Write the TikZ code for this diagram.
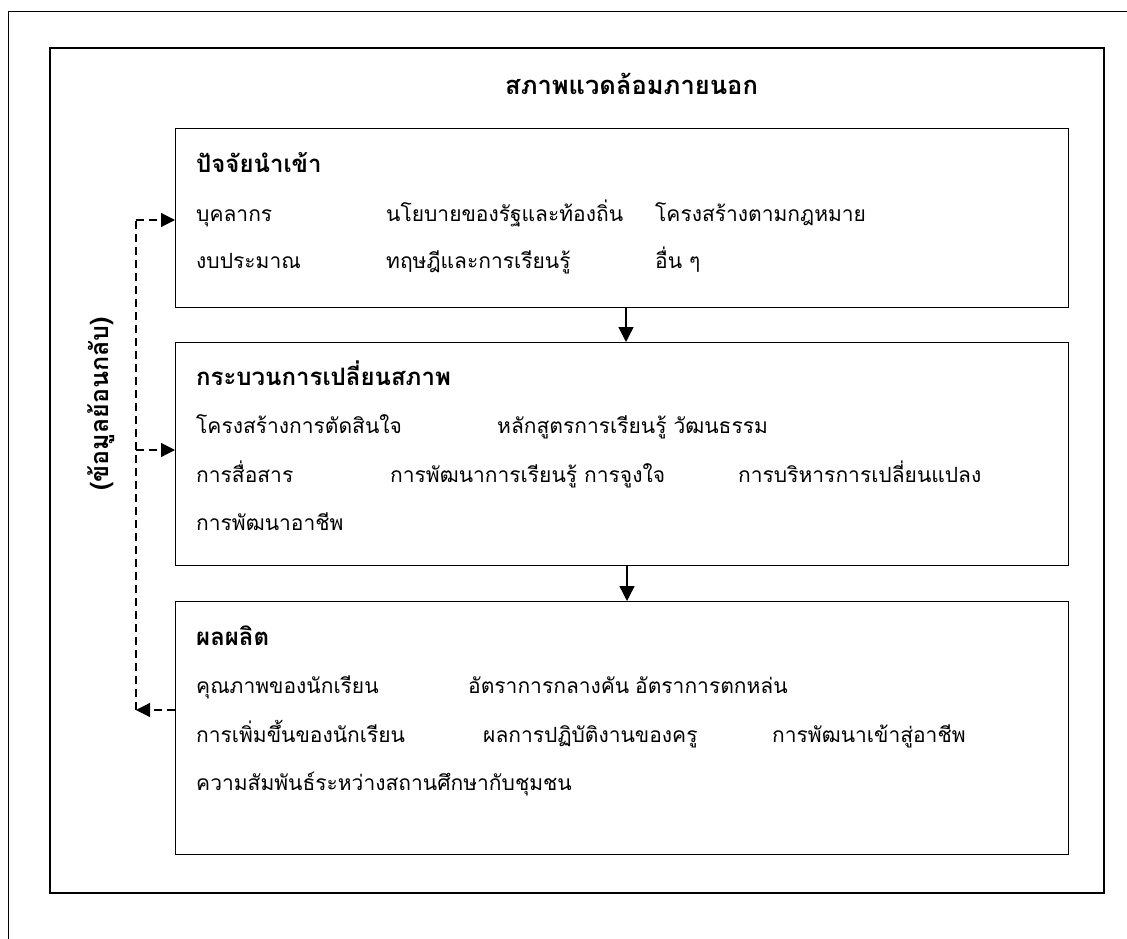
\documentclass[tikz,border=0pt]{standalone}
\usepackage{fontspec}
\setmainfont[Script=Thai]{Loma}
\usetikzlibrary{calc,positioning,arrows.meta}

\tikzset{
	stage/.style={draw, line width=1.4pt, anchor=north west, inner sep=0pt},
	item/.style={anchor=base west, inner sep=0pt, font=\fontsize{21}{25}\selectfont},
	head/.style={item, font=\fontsize{24}{28}\selectfont\bfseries},
	flow/.style={line width=1.4pt, -{Triangle[length=15pt,width=15pt]}},
	back/.style={dashed, dash pattern=on 8pt off 5pt, line width=1.2pt, -{Triangle[length=14pt,width=14pt]}}
}

\begin{document}
\begin{tikzpicture}[x=1pt,y=-1pt]
		% page frame and environment frame
		\useasboundingbox (0,0) rectangle (1127,939);
		\draw[line width=1pt] (8,939) -- (8,12) -- (1127,12);
		\draw[line width=1.2pt] (50,48) rectangle (1104,893);
		\node[head, font=\fontsize{25.5}{29}\selectfont\bfseries] (env) at (505,95) {สภาพแวดล้อมภายนอก};
		
		% the three stages
		\node[stage, minimum width=893pt, minimum height=179pt] (input) at (175,128) {};
		\node[stage, minimum width=893pt, minimum height=223pt] (process) at (175,342) {};
		\node[stage, minimum width=893pt, minimum height=253pt] (output) at (175,601) {};
		
		% input
		\node[head] (inhead) at (196,172) {ปัจจัยนำเข้า};
		\node[item] (in1) at (196,221) {บุคลากร};
		\node[item] (in2) at (386,221) {นโยบายของรัฐและท้องถิ่น};
		\node[item] (in3) at (655,221) {โครงสร้างตามกฎหมาย};
		\node[item] (in4) at (196,268) {งบประมาณ};
		\node[item] (in5) at (386,268) {ทฤษฎีและการเรียนรู้};
		\node[item] (in6) at (655,268) {อื่น ๆ};
		
		% process
		\node[head] (prhead) at (196,385) {กระบวนการเปลี่ยนสภาพ};
		\node[item] (pr1) at (196,433) {โครงสร้างการตัดสินใจ};
		\node[item] (pr2) at (497,433) {หลักสูตรการเรียนรู้ วัฒนธรรม};
		\node[item] (pr3) at (196,482) {การสื่อสาร};
		\node[item] (pr4) at (390,482) {การพัฒนาการเรียนรู้ การจูงใจ};
		\node[item] (pr5) at (738,482) {การบริหารการเปลี่ยนแปลง};
		\node[item] (pr6) at (196,530) {การพัฒนาอาชีพ};
		
		% output
		\node[head] (ouhead) at (196,645) {ผลผลิต};
		\node[item] (ou1) at (196,693) {คุณภาพของนักเรียน};
		\node[item] (ou2) at (468,693) {อัตราการกลางคัน};
		\node[item] (ou3) at (635,693) {อัตราการตกหล่น};
		\node[item] (ou4) at (196,742) {การเพิ่มขึ้นของนักเรียน};
		\node[item] (ou5) at (483,742) {ผลการปฏิบัติงานของครู};
		\node[item] (ou6) at (772,742) {การพัฒนาเข้าสู่อาชีพ};
		\node[item] (ou7) at (196,790) {ความสัมพันธ์ระหว่างสถานศึกษากับชุมชน};
		
		% forward arrows
		\draw[flow] (input.south -| 626,0) -- (process.north -| 626,0);
		\draw[flow] (process.south -| 627,0) -- (output.north -| 627,0);
		
		% feedback loop
		\coordinate (fbtop) at (136,220);
		\coordinate (fbmid) at (136,450);
		\coordinate (fbbot) at (136,710);
		\draw[back] (output.west |- fbbot) -- (fbbot);
		\draw[dashed, dash pattern=on 8pt off 5pt, line width=1.2pt] (fbbot) -- (fbtop);
		\draw[back] (fbtop) -- (input.west |- fbtop);
		\draw[back] (fbmid) -- (process.west |- fbmid);
		\node[head, anchor=center, rotate=90, font=\fontsize{25}{28}\selectfont\bfseries] (fblabel) at (101,404) {(ข้อมูลย้อนกลับ)};
	\end{tikzpicture}
\end{document}
